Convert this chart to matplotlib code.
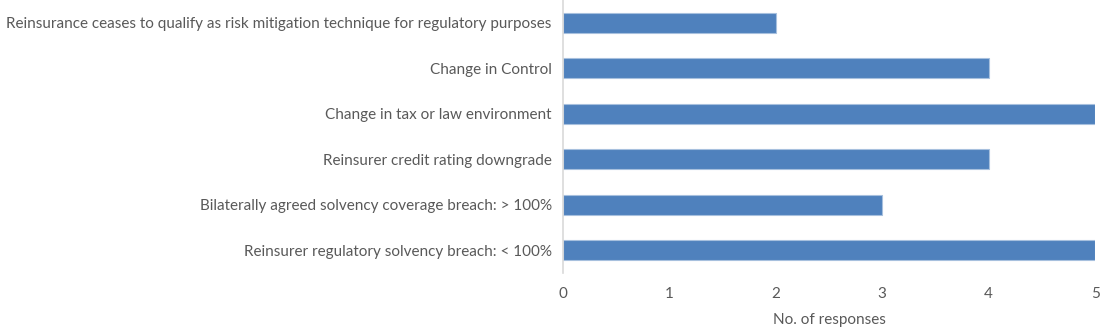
import matplotlib.pyplot as plt

# Data (top to bottom as shown)
categories = [
    "Reinsurance ceases to qualify as risk mitigation technique for regulatory purposes",
    "Change in Control",
    "Change in tax or law environment",
    "Reinsurer credit rating downgrade",
    "Bilaterally agreed solvency coverage breach: > 100%",
    "Reinsurer regulatory solvency breach: < 100%",
]
responses = [2, 4, 5, 4, 3, 5]
xticks = [0, 1, 2, 3, 4, 5]

plt.rcParams["font.family"] = ["Lato", "DejaVu Sans"]
text_color = "#595959"

fig = plt.figure(figsize=(11.01, 3.30), dpi=100)
ax = fig.add_axes([0.5113, 0.1727, 0.4833, 0.8273])

ypos = list(range(len(categories)))[::-1]
ax.barh(ypos, responses, height=0.45, color="#4F81BD", edgecolor="#A7C0DE", linewidth=0.8)

ax.set_xlim(0, 5)
ax.set_ylim(-0.5, len(categories) - 0.5)
ax.set_xticks(xticks)
ax.set_yticks(ypos)
ax.set_yticklabels(categories)
ax.tick_params(axis="both", length=0, colors=text_color, labelsize=11)
ax.tick_params(axis="y", pad=8)
ax.tick_params(axis="x", pad=10)
ax.set_xlabel("No. of responses", color=text_color, fontsize=11, labelpad=9)

for side in ["top", "right", "bottom"]:
    ax.spines[side].set_visible(False)
ax.spines["left"].set_color("#D9D9D9")
ax.spines["left"].set_linewidth(1.2)

fig.savefig("out.png", dpi=100)
